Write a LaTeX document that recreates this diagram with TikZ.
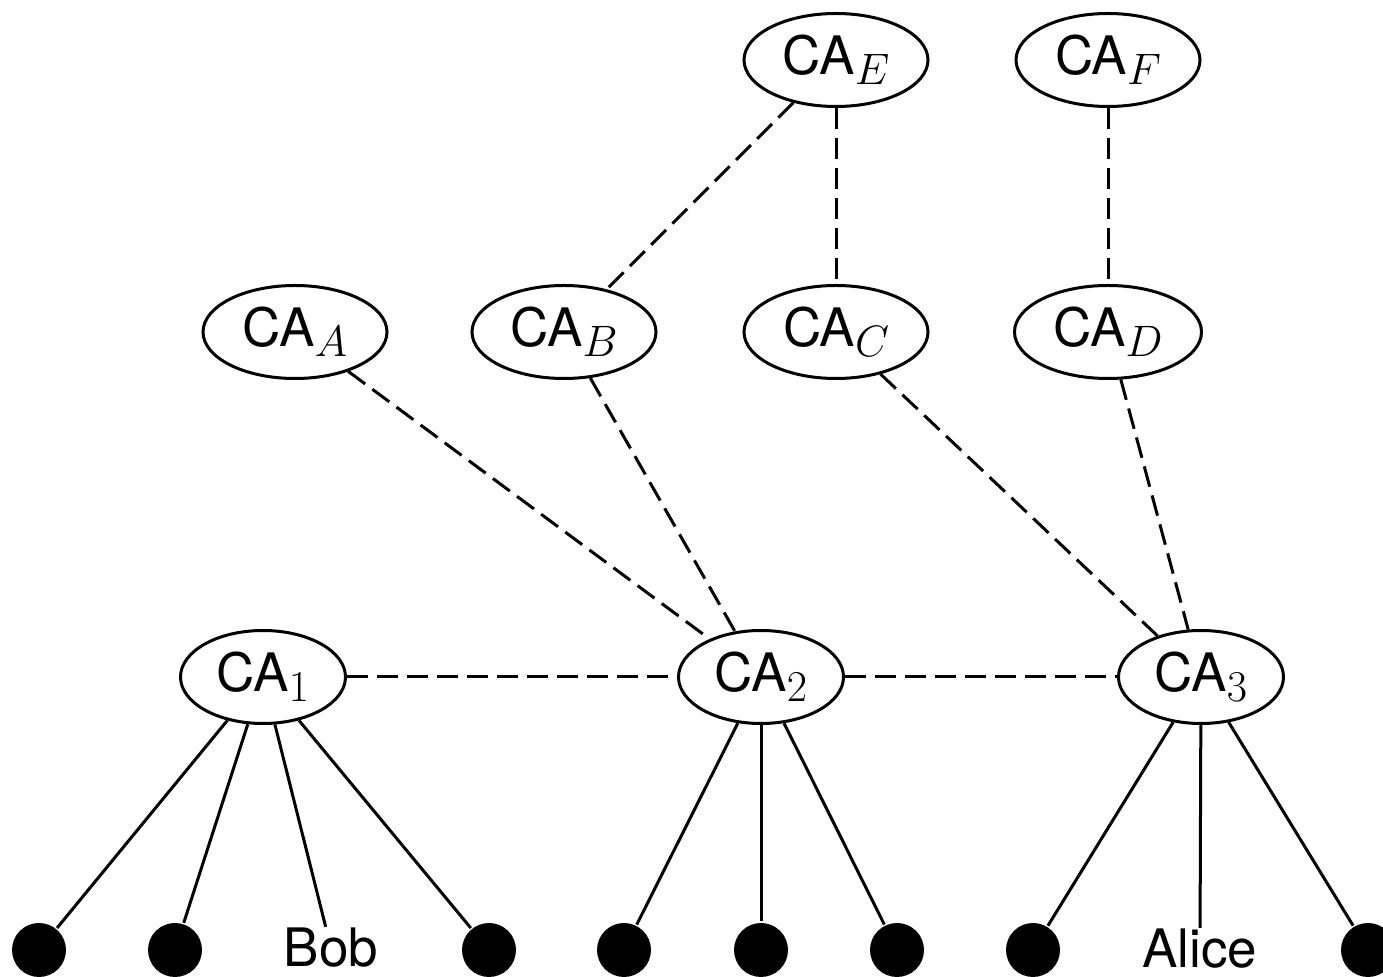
\RequirePackage{fix-cm}
\documentclass[tikz,border=0pt]{standalone}
\usepackage{fontspec}
\setsansfont{TeX Gyre Heros}
\usetikzlibrary{shapes.geometric}
\newcommand\casub[1]{\raisebox{-5pt}{\fontsize{22}{24}\selectfont$#1$}}
\newcommand\caname[1]{{\sffamily CA}\casub{#1}}
\begin{document}
\begin{tikzpicture}[x=0.5pt,y=-0.5pt,line width=1.5pt,
  font=\fontsize{26.5}{30}\selectfont\sffamily,
  canode/.style={ellipse,draw,inner sep=0pt,minimum height=46.5pt,minimum width=92pt},
  calow/.style={canode,minimum width=82.5pt},
  leaf/.style={circle,fill=black,draw=none,minimum size=27pt,inner sep=0pt},
  link/.style={dash pattern=on 10.5pt off 4.5pt},
  person/.style={inner sep=0pt,anchor=base}]
\path[use as bounding box,fill=white] (0,0) rectangle (1383,977);
% CA nodes
\node[canode] (E) at (836,60) {\caname{E}};
\node[canode] (F) at (1108,60) {\caname{F}};
\node[canode] (A) at (295,332) {\caname{A}};
\node[canode] (B) at (564,332) {\caname{B}};
\node[canode] (C) at (836,332) {\caname{C}};
\node[canode,minimum width=93.5pt] (D) at (1108,332) {\caname{D}};
\node[calow] (c1) at (263,677) {\caname{1}};
\node[calow] (c2) at (761,677) {\caname{2}};
\node[calow] (c3) at (1201,677) {\caname{3}};
% leaves
\node[leaf] (l1) at (39,950) {};
\node[leaf] (l2) at (175,950) {};
\node[person] (bob) at (331,967) {Bob};
\node[leaf] (l4) at (489,950) {};
\node[leaf] (l5) at (624,950) {};
\node[leaf] (l6) at (761,950) {};
\node[leaf] (l7) at (897,950) {};
\node[leaf] (l8) at (1033,950) {};
\node[person] (alice) at (1200,968) {Alice};
\node[leaf] (l9) at (1368,950) {};
% dashed links
\draw[link] (c1) -- (c2);
\draw[link] (c2) -- (c3);
\draw[link] (A) -- (c2);
\draw[link] (B) -- (c2);
\draw[link] (C) -- (c3);
\draw[link] (D) -- (c3);
\draw[link] (E) -- (B);
\draw[link] (E) -- (C);
\draw[link] (F) -- (D);
% solid links
\draw (c1) -- (l1);
\draw (c1) -- (l2);
\draw (c1) -- (bob);
\draw (c1) -- (l4);
\draw (c2) -- (l5);
\draw (c2) -- (l6);
\draw (c2) -- (l7);
\draw (c3) -- (l8);
\draw (c3) -- (alice);
\draw (c3) -- (l9);
\end{tikzpicture}
\end{document}
